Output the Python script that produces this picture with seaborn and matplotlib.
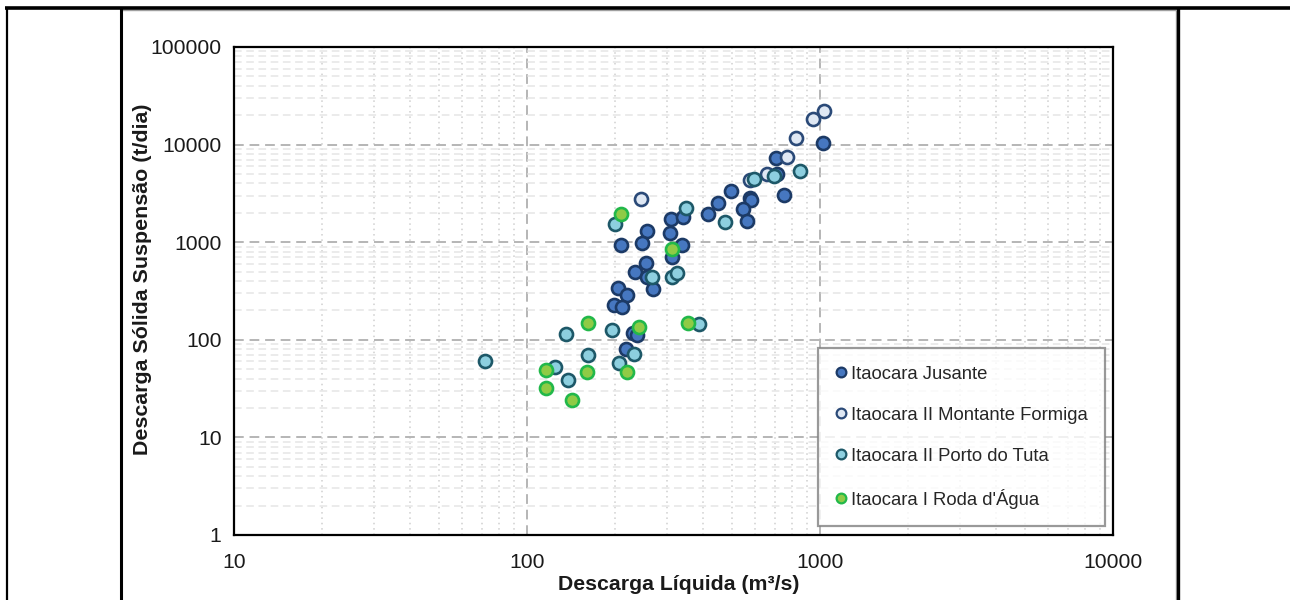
import numpy as np
import pandas as pd
import matplotlib
matplotlib.use("Agg")
import matplotlib.pyplot as plt
from matplotlib.lines import Line2D
from matplotlib.ticker import LogLocator, FixedLocator, NullFormatter
import seaborn as sns

# ---------------- data ----------------
series_names = ["Itaocara Jusante", "Itaocara II Montante Formiga",
                "Itaocara II Porto do Tuta", "Itaocara I Roda d'Água"]

jusante_q = [310, 342, 416, 448, 256, 308, 209, 247, 337, 313, 254, 234, 256, 270,
             204, 219, 198, 211, 230, 237, 217, 1026, 706, 712, 496, 577, 581, 755, 547, 562]
jusante_s = [1741, 1825, 1945, 2492, 1302, 1243, 929, 981, 929, 705, 608, 495, 443, 331,
             339, 290, 229, 217, 118, 112, 81, 10310, 7340, 4963, 3346, 2857, 2706, 3045, 2189, 1661]

montante_q = [244, 1034, 949, 826, 770, 658, 577]
montante_s = [2751, 22250, 18300, 11770, 7516, 4963, 4338]

tuta_q = [200, 348, 474, 268, 313, 325, 195, 136, 387, 232, 162, 206, 72, 125, 138, 855, 698, 595]
tuta_s = [1537, 2230, 1623, 437, 443, 480, 125, 115, 146, 72, 70, 58, 61, 53, 39, 5403, 4768, 4411]

roda_q = [209, 313, 162, 241, 354, 116, 160, 220, 116, 142]
roda_s = [1959, 858, 150, 135, 150, 49, 47, 47, 32, 24]

face_colors = ["#4677c0", "#dfe8f4", "#8dcfdf", "#8fcb46"]
edge_colors = ["#1c3a66", "#2b4a78", "#1d5868", "#22b84a"]

x_ticks = [10, 100, 1000, 10000]
y_ticks = [1, 10, 100, 1000, 10000, 100000]

frames = []
for name, q, s in zip(series_names,
                      [jusante_q, montante_q, tuta_q, roda_q],
                      [jusante_s, montante_s, tuta_s, roda_s]):
    frames.append(pd.DataFrame({"Q": q, "S": s, "serie": name}))
df = pd.concat(frames, ignore_index=True)

# ---------------- figure ----------------
sns.set_theme(style="white")
plt.rcParams["font.family"] = ["Liberation Sans", "DejaVu Sans"]

fig = plt.figure(figsize=(12.9, 6.0), dpi=100)
ax = fig.add_axes([234 / 1290, 65 / 600, 879 / 1290, 488 / 600])

ax.set_xscale("log")
ax.set_yscale("log")
ax.set_xlim(10, 10000)
ax.set_ylim(1, 100000)

for name, fc, ec in zip(series_names, face_colors, edge_colors):
    sub = df[df["serie"] == name]
    sns.scatterplot(data=sub, x="Q", y="S", ax=ax, color=fc, edgecolor=ec,
                    s=88, linewidth=1.9, legend=False, zorder=3)

# grids
ax.xaxis.set_major_locator(FixedLocator(x_ticks))
ax.yaxis.set_major_locator(FixedLocator(y_ticks))
ax.xaxis.set_minor_locator(LogLocator(base=10, subs=np.arange(2, 10), numticks=20))
ax.yaxis.set_minor_locator(LogLocator(base=10, subs=np.arange(2, 10), numticks=20))
ax.xaxis.set_minor_formatter(NullFormatter())
ax.yaxis.set_minor_formatter(NullFormatter())
ax.set_xticklabels([str(v) for v in x_ticks])
ax.set_yticklabels([str(v) for v in y_ticks])

ax.grid(which="minor", axis="y", color="#e6e6e6", linestyle=(0, (5, 3)), linewidth=1.1, zorder=0)
ax.grid(which="minor", axis="x", color="#cfcfcf", linestyle=(0, (1, 2.5)), linewidth=1.1, zorder=0)
ax.grid(which="major", axis="both", color="#b5b5b5", linestyle=(0, (5, 3)), linewidth=1.4, zorder=1)
ax.set_axisbelow(True)

for sp in ax.spines.values():
    sp.set_color("black")
    sp.set_linewidth(1.6)
    sp.set_visible(True)

ax.tick_params(axis="both", which="major", direction="out", length=6, width=1.4,
               color="black", labelsize=15.2, labelcolor="#1a1a1a", pad=3)
ax.tick_params(axis="both", which="minor", length=0)
ax.tick_params(axis="x", which="major", pad=7)

ax.set_xlabel("")
ax.set_ylabel("")
fig.text(679 / 1290, 1 - 584 / 600, "Descarga Líquida (m³/s)", ha="center", va="center",
         fontsize=15.3, fontweight="bold", color="#1a1a1a")
fig.text(142 / 1290, 1 - 279 / 600, "Descarga Sólida Suspensão (t/dia)", ha="center", va="center",
         rotation=90, fontsize=15.4, fontweight="bold", color="#1a1a1a")

# legend
handles = [Line2D([0], [0], marker="o", linestyle="", markersize=7,
                  markerfacecolor=fc, markeredgecolor=ec, markeredgewidth=1.6)
           for fc, ec in zip(face_colors, edge_colors)]
leg = ax.legend(handles, series_names, loc="upper right",
                bbox_to_anchor=(1105 / 1290, 1 - 348 / 600), bbox_transform=fig.transFigure,
                frameon=True, fancybox=False, fontsize=13.3, labelspacing=1.3,
                handlelength=0.6, handletextpad=0.2, borderpad=0.95, borderaxespad=0)
leg.get_frame().set_edgecolor("#808080")
leg.get_frame().set_linewidth(1.6)
leg.get_frame().set_facecolor("white")
leg.set_zorder(5)

# outer frame (table-like border)
def fline(x0, y0, x1, y1, lw, color="black"):
    fig.add_artist(Line2D([x0 / 1290, x1 / 1290], [1 - y0 / 600, 1 - y1 / 600],
                          transform=fig.transFigure, color=color, linewidth=lw,
                          solid_capstyle="butt"))

fline(121, 10, 1176, 10, 1.0, "#a0a0a0")
fline(1176, 10, 1176, 600, 1.0, "#a0a0a0")
fline(5, 8, 1290, 8, 2.6)
fline(7, 8, 7, 600, 1.6)
fline(120.5, 8, 120.5, 600, 2.2)
fline(1178, 8, 1178, 600, 2.4)

fig.savefig("out.png", dpi=100)
